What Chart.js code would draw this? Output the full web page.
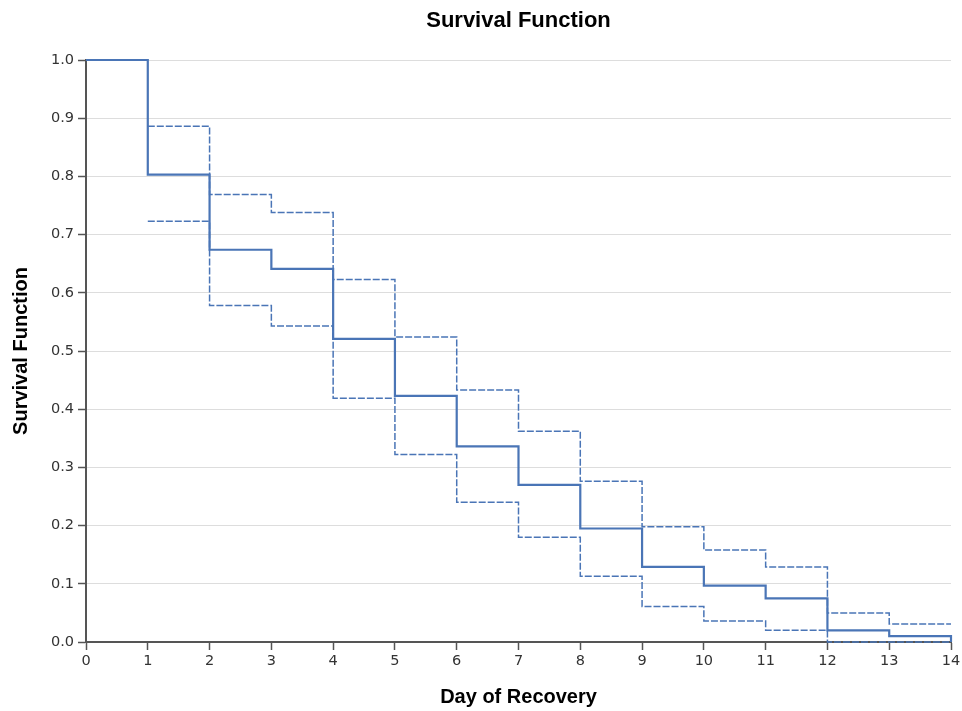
<!DOCTYPE html>
<html>
<head>
<meta charset="utf-8">
<script src="https://cdn.jsdelivr.net/npm/chart.js@4/dist/chart.umd.min.js"></script>
<style>
html,body{margin:0;padding:0;background:#fff;}
#wrap{width:962px;height:711px;position:relative;}
</style>
</head>
<body>
<div id="wrap"><canvas id="c" width="962" height="711"></canvas></div>
<script>
// Day of recovery (start of each interval; last entry is the end of the axis)
const days = [0, 1, 2, 3, 4, 5, 6, 7, 8, 9, 10, 11, 12, 13, 14];
// Kaplan-Meier survival estimate
const survival = [1.0, 0.803, 0.674, 0.641, 0.521, 0.423, 0.336, 0.270, 0.195, 0.129, 0.097, 0.075, 0.020, 0.010, 0.0];
// Upper confidence bound
const upperCI = [null, 0.886, 0.769, 0.738, 0.623, 0.524, 0.433, 0.362, 0.276, 0.198, 0.158, 0.129, 0.050, 0.031, 0.031];
// Lower confidence bound
const lowerCI = [null, 0.723, 0.578, 0.543, 0.419, 0.322, 0.240, 0.180, 0.113, 0.061, 0.036, 0.020, 0.0, 0.0, 0.0];
const yTicks = [0, 0.1, 0.2, 0.3, 0.4, 0.5, 0.6, 0.7, 0.8, 0.9, 1.0];
const chartTitle = 'Survival Function';

const toXY = arr => days.map((d, i) => ({x: d, y: arr[i]}));
const blue = '#4a75b6';
const axisColor = '#555';
const tickFont = {family: '"DejaVu Sans", Verdana, sans-serif', size: 14.5};
const titleFont = {family: '"Liberation Sans", Arial, sans-serif', size: 20, weight: 'bold'};

// Title centred over the plot area (as in the reference)
const plotTitle = {
  id: 'plotTitle',
  afterDraw(chart) {
    const {ctx, chartArea} = chart;
    ctx.save();
    ctx.font = 'bold 22px "Liberation Sans", Arial, sans-serif';
    ctx.fillStyle = '#000';
    ctx.textAlign = 'center';
    ctx.textBaseline = 'middle';
    ctx.fillText(chartTitle, (chartArea.left + chartArea.right) / 2, 21);
    ctx.restore();
  }
};

new Chart(document.getElementById('c'), {
  type: 'line',
  data: {
    datasets: [
      {label: 'Upper CI', data: toXY(upperCI), borderColor: blue, borderWidth: 1.5, borderDash: [7, 2], stepped: 'before', pointRadius: 0, fill: false, spanGaps: false, clip: 4},
      {label: 'Lower CI', data: toXY(lowerCI), borderColor: blue, borderWidth: 1.5, borderDash: [7, 2], stepped: 'before', pointRadius: 0, fill: false, spanGaps: false, clip: 4},
      {label: 'Survival', data: toXY(survival), borderColor: blue, borderWidth: 2.2, stepped: 'before', pointRadius: 0, fill: false, clip: 4}
    ]
  },
  plugins: [plotTitle],
  options: {
    responsive: false,
    animation: false,
    events: [],
    layout: {padding: {left: 0, right: 11, top: 60, bottom: 0}},
    plugins: {
      legend: {display: false},
      tooltip: {enabled: false},
      title: {display: false}
    },
    scales: {
      x: {
        type: 'linear',
        min: 0, max: 14,
        afterBuildTicks: s => { s.ticks = days.map(v => ({value: v})); },
        afterFit: s => { s.height = 69; s.paddingRight = 0; s.paddingLeft = 0; },
        ticks: {color: '#333', font: tickFont, padding: 3, maxRotation: 0, autoSkip: false},
        grid: {display: true, drawOnChartArea: false, drawTicks: true, tickLength: 8, tickColor: axisColor, tickWidth: 1.5},
        border: {display: true, color: axisColor, width: 2},
        title: {display: true, text: 'Day of Recovery', color: '#000', font: titleFont, padding: {top: 0, bottom: 2}}
      },
      y: {
        type: 'linear',
        min: 0, max: 1,
        afterBuildTicks: s => { s.ticks = yTicks.map(v => ({value: v})); },
        afterFit: s => { s.width = 86; },
        ticks: {color: '#333', font: tickFont, padding: 4, callback: v => Number(v).toFixed(1)},
        grid: {display: true, color: '#ddd', lineWidth: 1, drawTicks: true, tickLength: 8, tickColor: axisColor, tickWidth: 1.5},
        border: {display: true, color: axisColor, width: 2},
        title: {display: true, text: 'Survival Function', color: '#000', font: titleFont, padding: {top: 9, bottom: 0}}
      }
    }
  }
});
</script>
</body>
</html>
